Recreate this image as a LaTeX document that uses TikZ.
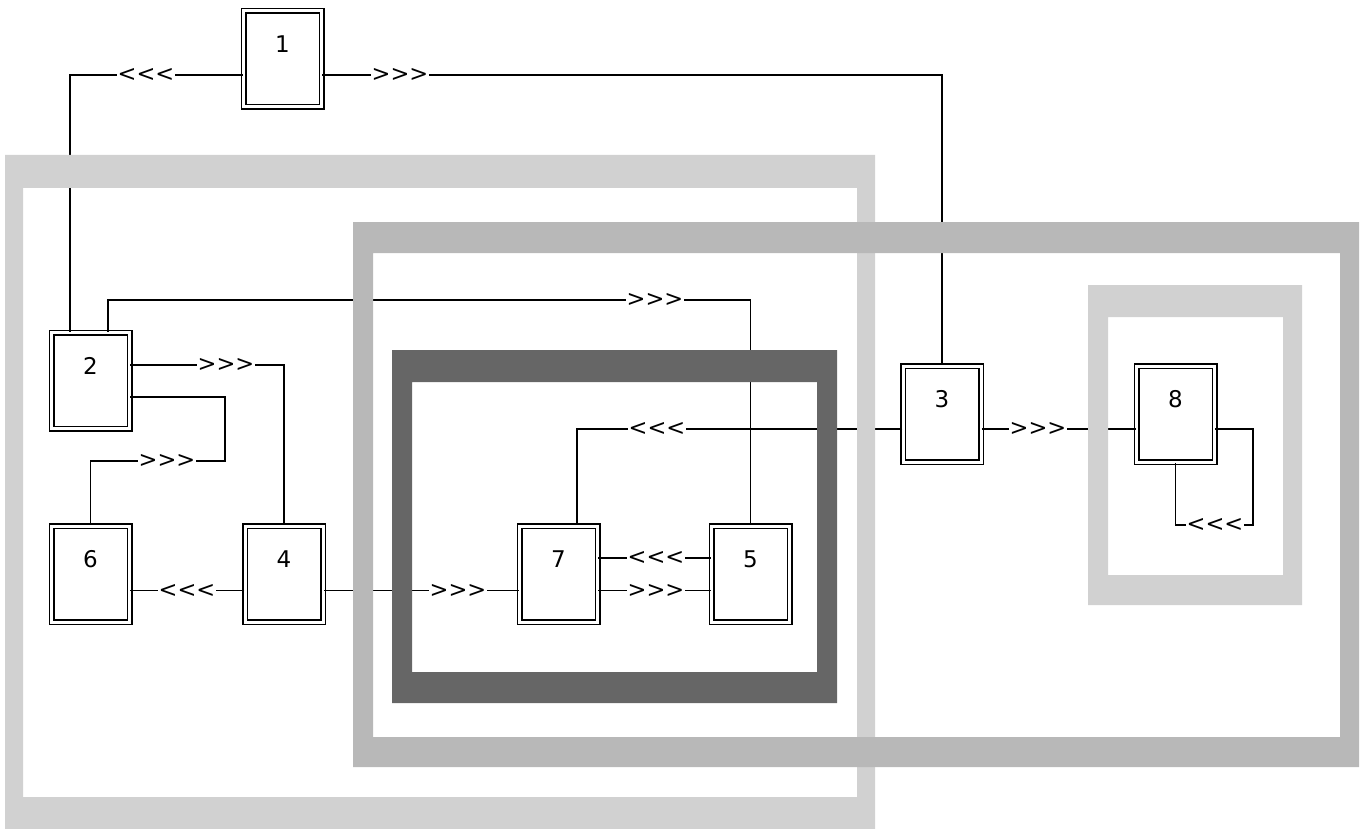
\documentclass[tikz,border=0pt]{standalone}
\usepackage{fontspec}
\newfontfamily\dv{DejaVu Sans}
\begin{document}
\begin{tikzpicture}[x=1pt,y=-1pt,
  box/.style={draw, line width=1.5pt, double=white, double distance=3pt, fill=white,
    minimum width=78pt, minimum height=96pt, inner sep=0pt,
    text height=20pt, text depth=33pt, font=\dv\fontsize{23}{26}\selectfont},
  chev/.style={inner sep=0.6pt, font=\dv\fontsize{22.5}{26}\selectfont},
  conn/.style={line width=1.6pt},
  lightband/.style={fill=black!18, even odd rule},
  midband/.style={fill=black!28, even odd rule},
  darkband/.style={fill=black!60, even odd rule}]
\useasboundingbox (0,0) rectangle (1367,829);

% boxes
\node[box] (b1) at (282.5,59) {1};
\node[box] (b2) at (90.5,380.5) {2};
\node[box] (b6) at (90.5,574) {6};
\node[box] (b4) at (284,574) {4};
\node[box] (b7) at (558.5,574) {7};
\node[box] (b5) at (750.5,574) {5};
\node[box] (b3) at (942,414) {3};
\node[box] (b8) at (1175.5,414) {8};

% chevrons
\node[chev] (k1) at (146,75) {<<<};
\node[chev] (k2) at (400,75) {>>>};
\node[chev] (k3) at (655,300) {>>>};
\node[chev] (k4) at (226,365) {>>>};
\node[chev] (k5) at (167,461) {>>>};
\node[chev] (k6) at (187,590.5) {<<<};
\node[chev] (k7) at (458,590.5) {>>>};
\node[chev] (k8) at (656,558) {<<<};
\node[chev] (k9) at (656,590.5) {>>>};
\node[chev] (k10) at (657,429) {<<<};
\node[chev] (k11) at (1038,429) {>>>};
\node[chev] (k12) at (1215,525) {<<<};

\coordinate (t5) at (225,461);
\coordinate (t12) at (1253,525);

% connectors
\begin{scope}[conn]
\draw ([xshift=19.5pt]b2.north west) |- (k1.west);
\draw (k1.east) -- (k1.east -| b1.west);
\draw (b1.east |- k2) -- (k2.west);
\draw (k2.east) -| (b3.north);
\draw ([xshift=57.5pt]b2.north west) |- (k3.west);
\draw (k3.east) -| (b5.north);
\draw (b2.east |- k4) -- (k4.west);
\draw (k4.east) -| (b4.north);
\draw ([yshift=-16.5pt]b2.east) -| (t5) -- (k5.east);
\draw (k5.west) -| (b6.north);
\draw (b4.west |- k6) -- (k6.east);
\draw (k6.west) -- (k6.west -| b6.east);
\draw (b4.east |- k7) -- (k7.west);
\draw (k7.east) -- (k7.east -| b7.west);
\draw (b5.west |- k8) -- (k8.east);
\draw (k8.west) -- (k8.west -| b7.east);
\draw (b7.east |- k9) -- (k9.west);
\draw (k9.east) -- (k9.east -| b5.west);
\draw (b3.west |- k10) -- (k10.east);
\draw (k10.west) -| ([xshift=18.5pt]b7.north);
\draw (b3.east |- k11) -- (k11.west);
\draw (k11.east) -- (k11.east -| b8.west);
\draw (b8.east |- k11) -| (t12) -- (k12.east);
\draw (k12.west) -| (b8.south);
\end{scope}

% shaded frames (drawn over the connectors)
\fill[lightband] (5,155) rectangle (875,829) (23,188) rectangle (857,797);
\fill[midband] (353,222) rectangle (1359,767) (373,253) rectangle (1340,737);
\fill[darkband] (392,350) rectangle (837,703) (412,382) rectangle (817,672);
\fill[lightband] (1088,285) rectangle (1302,605) (1108,317) rectangle (1283,575);
\end{tikzpicture}
\end{document}
